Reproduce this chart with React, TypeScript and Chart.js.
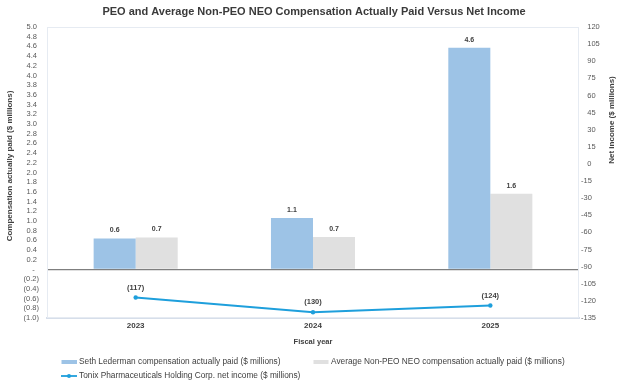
import React, { useEffect, useRef } from 'react';
import { Chart, registerables } from 'chart.js';

Chart.register(...registerables);

const categories = ['2023', '2024', '2025'];
const peoCap = [0.64, 1.06, 4.57];
const nonPeoCap = [0.66, 0.67, 1.56];
const netIncome = [-117, -130, -124];

const seriesNames = [
  'Seth Lederman compensation actually paid ($ millions)',
  'Average Non-PEO NEO compensation actually paid ($ millions)',
  'Tonix Pharmaceuticals Holding Corp. net income ($ millions)',
];
const titleText = 'PEO and Average Non-PEO NEO Compensation Actually Paid Versus Net Income';
const leftAxisTitle = 'Compensation actually paid ($ millions)';
const rightAxisTitle = 'Net income ($ millions)';
const xAxisTitle = 'Fiscal year';

const FONT = "'Liberation Sans', Arial, sans-serif";
const BLUE = '#9DC3E6';
const GRAY = '#E0E0E0';
const LINE = '#1E9FDC';
const TEXT = '#404040';

const fmtLeft = (v: number) => {
  if (Math.abs(v) < 1e-9) return '-  ';
  if (v > 0) return v.toFixed(1) + ' ';
  return '(' + Math.abs(v).toFixed(1) + ')';
};
const fmtRight = (v: number) => (v < 0 ? '-' + Math.abs(v) : '   ' + v);

const decorPlugin = {
  id: 'decor',
  beforeDatasetsDraw(chart: any) {
    const { ctx, chartArea: a } = chart;
    ctx.save();
    ctx.strokeStyle = '#E6EBF2';
    ctx.lineWidth = 1;
    ctx.strokeRect(a.left + 0.5, a.top + 0.5, a.right - a.left - 1, a.bottom - a.top - 1);
    ctx.restore();
  },
  afterDatasetsDraw(chart: any) {
    const { ctx } = chart;
    ctx.save();
    ctx.fillStyle = TEXT;
    ctx.textAlign = 'center';
    ctx.textBaseline = 'middle';
    chart.data.datasets.forEach((ds: any, i: number) => {
      const meta = chart.getDatasetMeta(i);
      meta.data.forEach((el: any, j: number) => {
        const v = ds.data[j];
        if (ds.type === 'line') {
          ctx.font = `bold 7.5px ${FONT}`;
          ctx.fillText('(' + Math.abs(v) + ')', el.x, el.y - 10);
        } else {
          ctx.font = `bold 7px ${FONT}`;
          ctx.fillText(v.toFixed(1), el.x, el.y - 8);
        }
      });
    });
    ctx.restore();
  },
  afterDraw(chart: any) {
    const { ctx } = chart;
    ctx.save();
    ctx.fillStyle = '#3A3A3A';
    ctx.textAlign = 'center';
    ctx.textBaseline = 'middle';
    ctx.font = `bold 11px ${FONT}`;
    ctx.fillText(titleText, 314, 12);

    ctx.fillStyle = TEXT;
    ctx.font = `bold 7.5px ${FONT}`;
    ctx.fillText(xAxisTitle, 313, 342);

    ctx.font = `bold 8px ${FONT}`;
    ctx.save();
    ctx.translate(10, 166);
    ctx.rotate(-Math.PI / 2);
    ctx.fillText(leftAxisTitle, 0, 0);
    ctx.restore();
    ctx.save();
    ctx.translate(612, 120);
    ctx.rotate(-Math.PI / 2);
    ctx.fillText(rightAxisTitle, 0, 0);
    ctx.restore();

    // legend
    ctx.font = `8.3px ${FONT}`;
    ctx.textAlign = 'left';
    const r1 = 362;
    const r2 = 376;
    ctx.fillStyle = BLUE;
    ctx.fillRect(61.5, r1 - 2, 15.5, 4);
    ctx.fillStyle = TEXT;
    ctx.fillText(seriesNames[0], 79, r1);
    ctx.fillStyle = GRAY;
    ctx.fillRect(313.5, r1 - 2, 15, 4);
    ctx.fillStyle = TEXT;
    ctx.fillText(seriesNames[1], 331, r1);
    ctx.strokeStyle = LINE;
    ctx.lineWidth = 1.8;
    ctx.beginPath();
    ctx.moveTo(61, r2);
    ctx.lineTo(77, r2);
    ctx.stroke();
    ctx.fillStyle = LINE;
    ctx.beginPath();
    ctx.arc(69, r2, 2, 0, Math.PI * 2);
    ctx.fill();
    ctx.fillStyle = TEXT;
    ctx.fillText(seriesNames[2], 79, r2);
    ctx.restore();
  },
};

export default function App() {
  const ref = useRef<HTMLCanvasElement | null>(null);
  useEffect(() => {
    document.body.style.margin = '0';
    const canvas = ref.current;
    if (!canvas) return;
    const chart = new Chart(canvas, {
      type: 'bar',
      data: {
        labels: categories,
        datasets: [
          {
            type: 'bar',
            label: seriesNames[0],
            data: peoCap,
            backgroundColor: BLUE,
            yAxisID: 'y',
            order: 1,
            categoryPercentage: 0.474,
            barPercentage: 1,
          },
          {
            type: 'bar',
            label: seriesNames[1],
            data: nonPeoCap,
            backgroundColor: GRAY,
            yAxisID: 'y',
            order: 1,
            categoryPercentage: 0.474,
            barPercentage: 1,
          },
          {
            type: 'line',
            label: seriesNames[2],
            data: netIncome,
            borderColor: LINE,
            backgroundColor: LINE,
            borderWidth: 2,
            pointRadius: 2.2,
            pointBackgroundColor: LINE,
            pointBorderWidth: 0,
            tension: 0,
            yAxisID: 'y1',
            order: 0,
          } as any,
        ],
      },
      options: {
        animation: false,
        responsive: false,
        devicePixelRatio: 1,
        layout: { padding: { top: 27, bottom: 40, left: 0, right: 0 } },
        plugins: {
          legend: { display: false },
          title: { display: false },
          tooltip: { enabled: false },
        },
        scales: {
          x: {
            grid: { display: false, drawTicks: false },
            border: { color: '#D6DEEA', width: 2 },
            ticks: { color: TEXT, font: { family: FONT, size: 8, weight: 'bold' }, padding: 3 },
            afterFit: (s: any) => {
              s.height = 28;
            },
          },
          y: {
            position: 'left',
            min: -1,
            max: 5,
            ticks: {
              stepSize: 0.2,
              autoSkip: false,
              color: '#595959',
              font: { family: FONT, size: 7.5 },
              padding: 8,
              callback: (v: any) => fmtLeft(Number(v)),
            },
            grid: {
              drawTicks: false,
              color: (c: any) => (c.tick && Math.abs(c.tick.value) < 1e-9 ? '#7F7F7F' : 'rgba(0,0,0,0)'),
              lineWidth: (c: any) => (c.tick && Math.abs(c.tick.value) < 1e-9 ? 1.3 : 0),
            },
            border: { display: false },
            afterFit: (s: any) => {
              s.width = 47;
            },
          },
          y1: {
            position: 'right',
            min: -135,
            max: 120,
            ticks: {
              stepSize: 15,
              autoSkip: false,
              color: '#595959',
              font: { family: FONT, size: 7.5 },
              padding: 2,
              callback: (v: any) => fmtRight(Number(v)),
            },
            grid: { display: false, drawTicks: false },
            border: { display: false },
            afterFit: (s: any) => {
              s.width = 45;
            },
          },
        },
      } as any,
      plugins: [decorPlugin],
    });
    return () => chart.destroy();
  }, []);
  return (
    <div style={{ position: 'absolute', left: 0, top: 0, width: 624, height: 386, background: '#fff' }}>
      <canvas ref={ref} width={624} height={386} style={{ width: 624, height: 386, display: 'block' }} />
    </div>
  );
}
